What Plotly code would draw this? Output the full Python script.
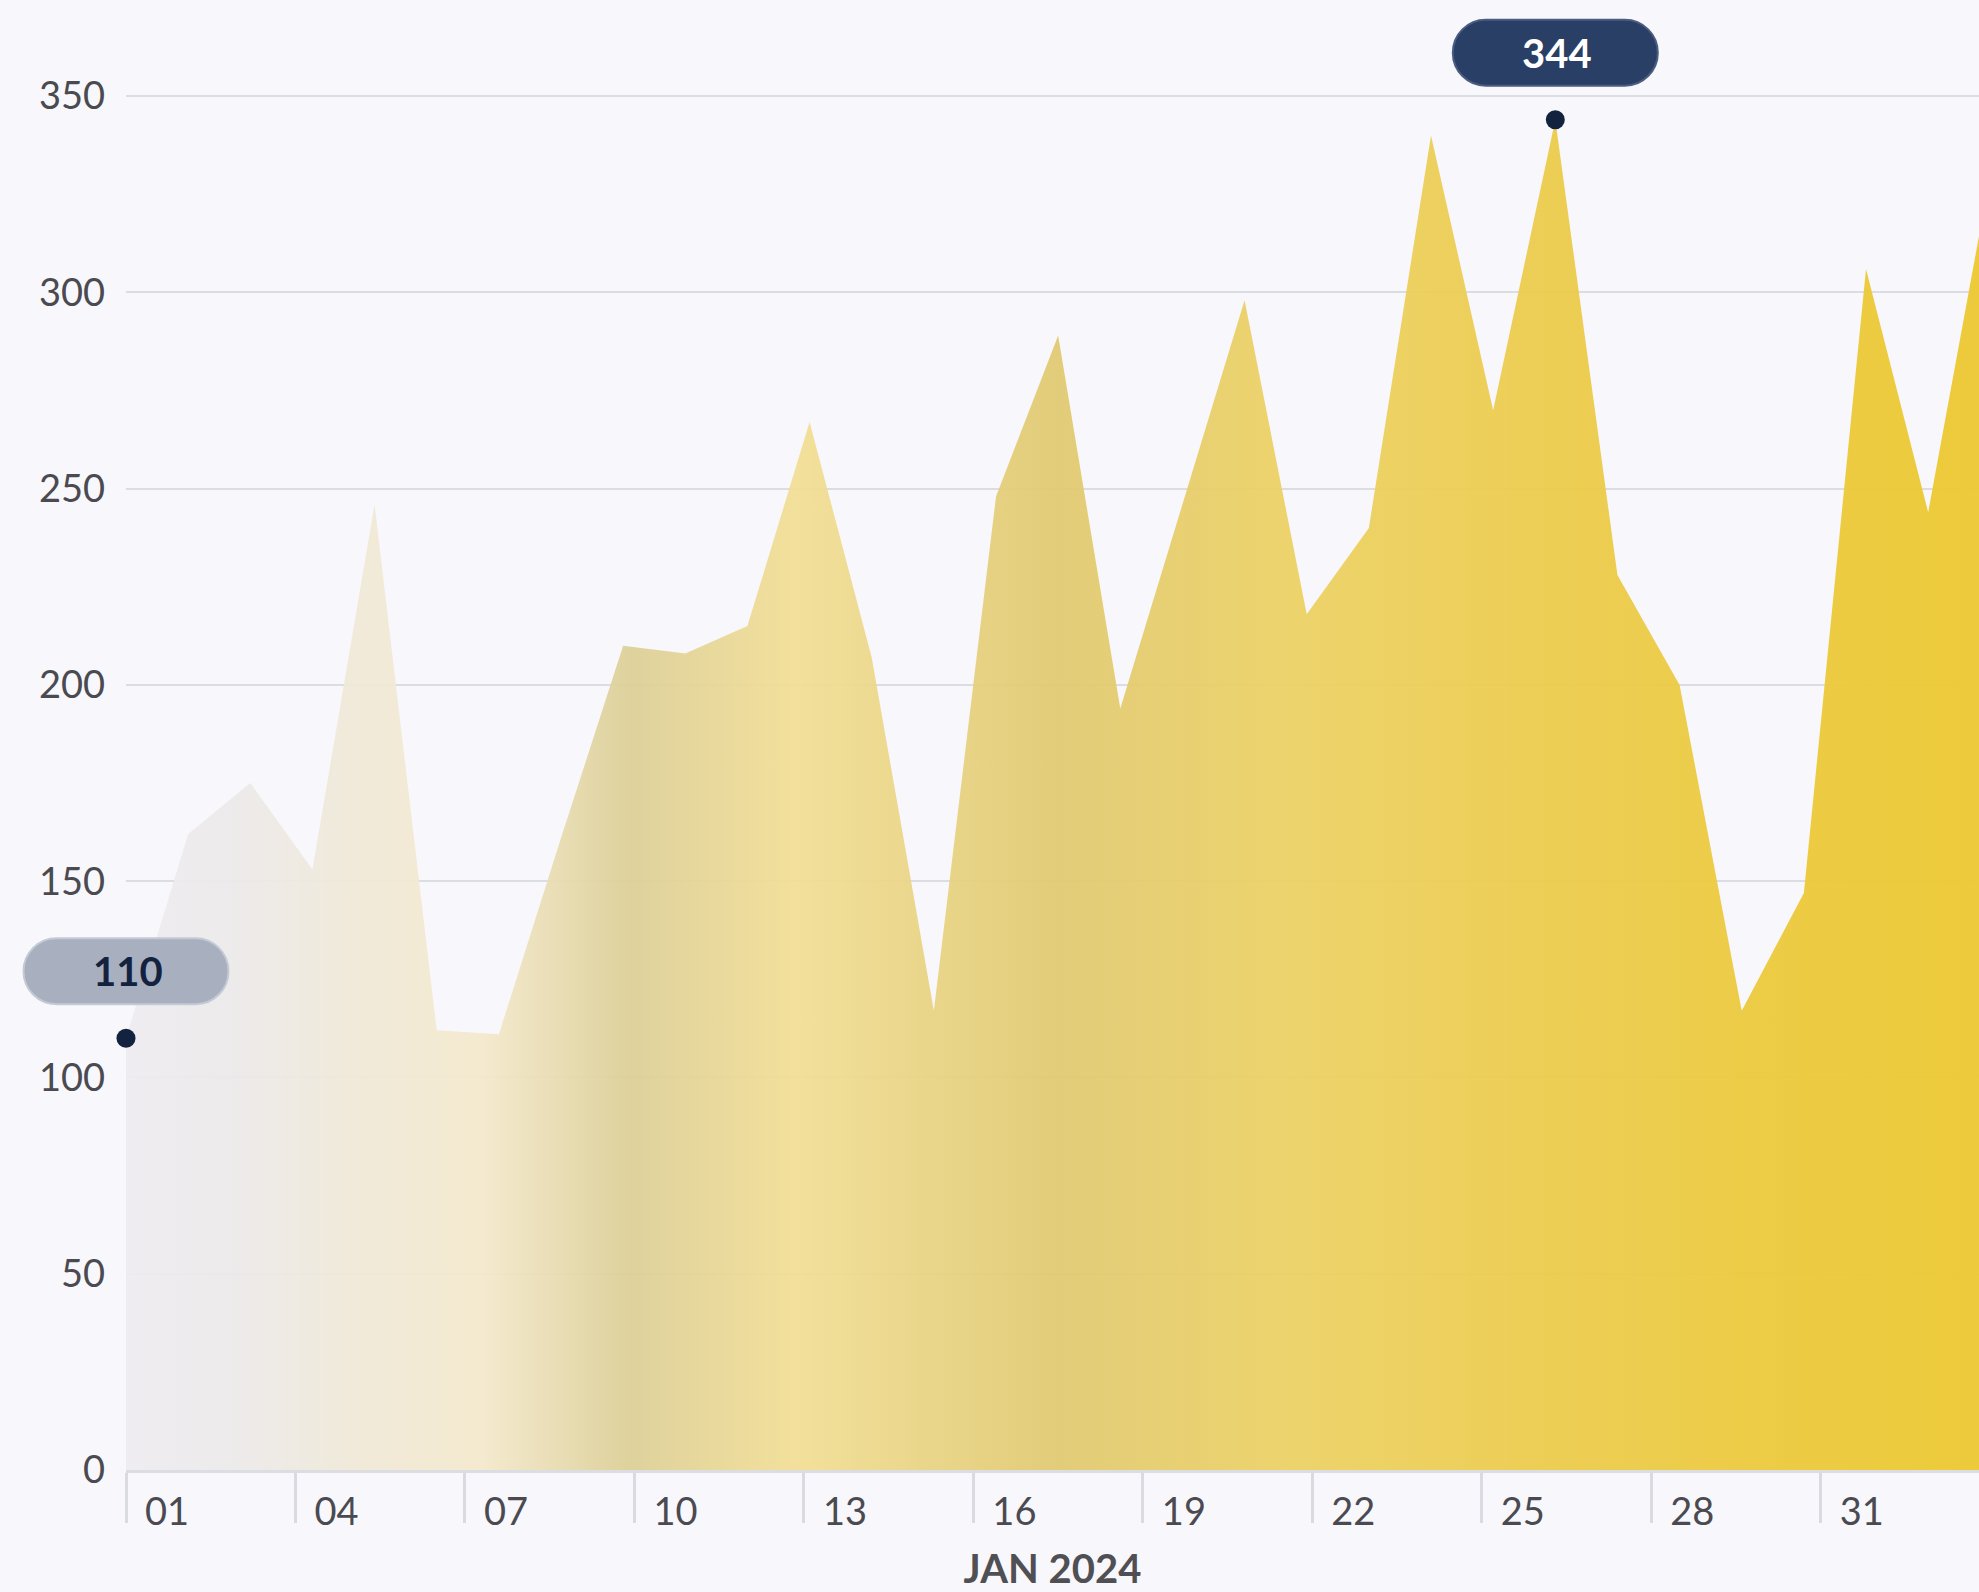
import pandas as pd
import plotly.graph_objects as go

# ---- data ----
start_date = "2024-01-01"
end_date = "2024-02-03"
values = [110, 162, 175, 153, 246, 112, 111, 161, 210, 208, 215, 267, 207, 117,
          248, 289, 194, 246, 298, 218, 240, 340, 270, 344, 228, 200, 117, 147,
          306, 244, 330]
dates = pd.date_range(start_date, end_date, periods=len(values))
x_range = ["2024-01-01", "2024-02-02 19:12"]
y_range = [0, 374.5]
y_tickvals = [0, 50, 100, 150, 200, 250, 300, 350]
axis_title = "JAN 2024"
first_label = str(values[0])
max_idx = values.index(max(values))
max_label = str(values[max_idx])

BG = "#f8f7fc"
GRID = "#dcdde3"
TXT = "#4a4a50"
NAVY = "#13233f"
FONT = "Lato"

fig = go.Figure()

fig.add_trace(go.Scatter(
    x=dates, y=values, mode="lines", fill="tozeroy",
    line=dict(width=0, color="rgba(0,0,0,0)"),
    fillgradient=dict(
        type="horizontal",
        colorscale=[
            [0.00, "rgba(238,236,240,0.93)"],
            [0.06, "rgba(236,233,233,0.93)"],
            [0.12, "rgba(240,233,216,0.93)"],
            [0.19, "rgba(244,233,204,0.93)"],
            [0.27, "rgba(220,207,150,0.93)"],
            [0.36, "rgba(242,222,148,0.93)"],
            [0.50, "rgba(224,201,112,0.93)"],
            [0.62, "rgba(236,209,100,0.94)"],
            [0.75, "rgba(236,204,78,0.95)"],
            [0.88, "rgba(236,202,62,0.96)"],
            [1.00, "rgba(236,201,52,0.97)"],
        ],
    ),
    hoverinfo="skip", showlegend=False,
))

# dots at first point and maximum
fig.add_trace(go.Scatter(
    x=[dates[0], dates[max_idx]], y=[values[0], values[max_idx]],
    mode="markers", marker=dict(size=19, color=NAVY),
    cliponaxis=False, showlegend=False, hoverinfo="skip",
))

# pill shapes (pixel-sized, anchored to data points converted to paper coords)
x0 = pd.Timestamp(x_range[0]).value
x1 = pd.Timestamp(x_range[1]).value


def paper_x(d):
    return (pd.Timestamp(d).value - x0) / (x1 - x0)


def pill_path(w=205, h=66, off=67):
    r = h / 2
    hw = w / 2 - r
    k = 0.5523 * r
    cy = off
    b = cy - r
    t = cy + r
    return (f"M {-hw},{b} L {hw},{b} "
            f"C {hw + k},{b} {hw + r},{cy - k} {hw + r},{cy} "
            f"C {hw + r},{cy + k} {hw + k},{t} {hw},{t} "
            f"L {-hw},{t} "
            f"C {-hw - k},{t} {-hw - r},{cy + k} {-hw - r},{cy} "
            f"C {-hw - r},{cy - k} {-hw - k},{b} {-hw},{b} Z")


pills = [
    (dates[0], values[0], "#a8b0bf", "#c4cad5", first_label, NAVY),
    (dates[max_idx], values[max_idx], "#2a3f66", "#4b5c80", max_label, "#ffffff"),
]
for d, v, fillc, linec, label, tc in pills:
    fig.add_shape(
        type="path", xref="paper", yref="paper",
        xsizemode="pixel", ysizemode="pixel",
        xanchor=paper_x(d), yanchor=v / y_range[1],
        path=pill_path(), fillcolor=fillc,
        line=dict(color=linec, width=2), layer="above",
    )
    fig.add_annotation(
        x=d, y=v, xref="x", yref="y", text=f"<b>{label}</b>",
        showarrow=False, yshift=67, xshift=2,
        font=dict(family=FONT, size=40, color=tc),
    )

fig.update_layout(
    width=1979, height=1592,
    paper_bgcolor=BG, plot_bgcolor=BG,
    margin=dict(l=126, r=0, t=0, b=122),
    font=dict(family=FONT, color=TXT),
    showlegend=False,
)

fig.update_xaxes(
    type="date", range=x_range, automargin=False,
    tick0="2024-01-01", dtick=3 * 86400000, tickformat="%d",
    ticks="outside", ticklen=50, tickwidth=3, tickcolor="#d9dbe1",
    ticklabelshift=41, ticklabelstandoff=-44,
    tickfont=dict(family=FONT, size=38, color=TXT),
    showgrid=False, zeroline=False,
    showline=True, linecolor=GRID, linewidth=3,
    title=dict(text=f"<b>{axis_title}</b>", standoff=46,
               font=dict(family=FONT, size=40, color="#4f4f54")),
)

fig.update_yaxes(
    range=y_range, tickvals=y_tickvals, automargin=False,
    showgrid=True, gridcolor=GRID, gridwidth=2,
    zeroline=False, showline=False, ticks="",
    ticklabelstandoff=20,
    tickfont=dict(family=FONT, size=38, color=TXT),
)

fig.write_html("out.html")
